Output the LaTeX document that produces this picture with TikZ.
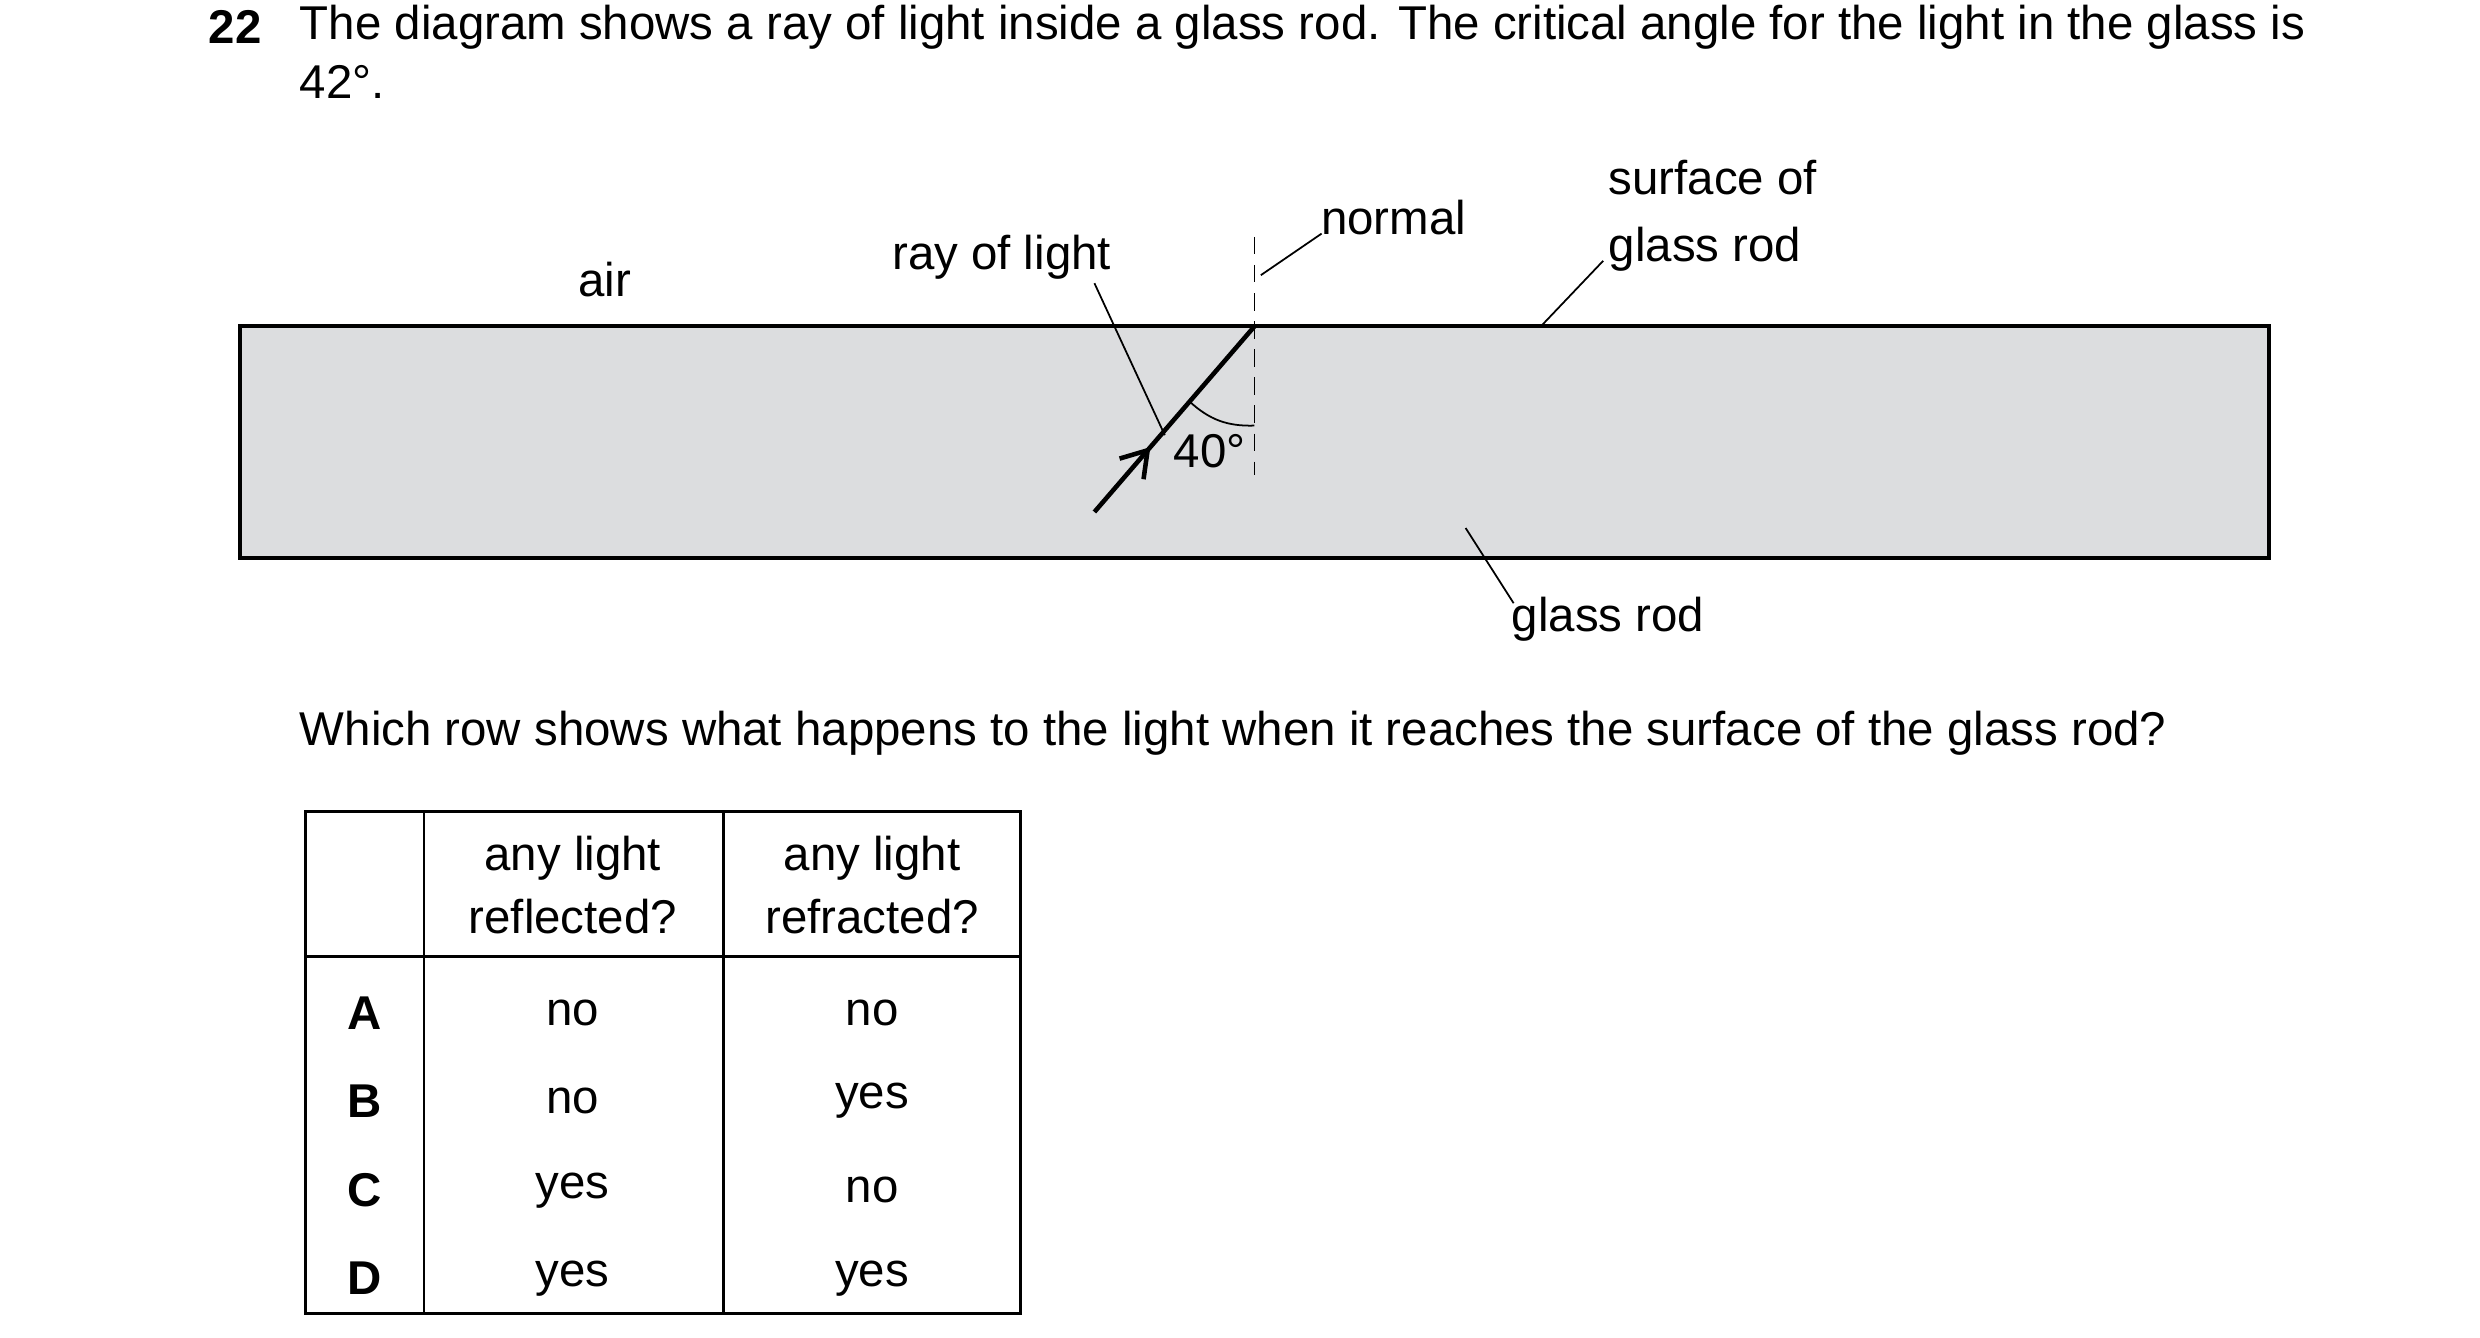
\documentclass[tikz,border=0pt]{standalone}
\usepackage{fontspec}
\setmainfont{Liberation Sans}
\usetikzlibrary{arrows.meta,decorations.markings}
\tikzset{
  txt/.style={font=\fontsize{13.5}{16}\selectfont, inner sep=0pt},
  lead/.style={line width=0.5pt},
  cell/.style={txt, align=center},
}
\begin{document}
\begin{tikzpicture}[x=0.016cm,y=-0.016cm]
\useasboundingbox (0,0) rectangle (1550,836);
% question
\node[txt, font=\fontsize{13.5}{16}\bfseries] (num) at (147,17) {22};
\node[txt, anchor=west] (q1) at (187,17) {The diagram shows a ray of light inside a glass rod. The critical angle for the light in the glass is};
\node[txt, anchor=west] (q2) at (187,51) {42°.};
% glass rod
\draw[line width=1.1pt, fill={rgb,255:red,220;green,221;blue,223}] (150,204) rectangle (1418,349);
\coordinate (hit) at (784,204);
\coordinate (start) at (684,320);
\coordinate (ntop) at (784,148);
\coordinate (nbot) at (784,297);
\draw[dashed, dash pattern=on 5pt off 3pt, line width=0.5pt] (ntop) -- (nbot);
\draw[line width=1.3pt, decoration={markings, mark=at position 0.35 with {\arrow{Straight Barb[length=7pt,width=9pt]}}}, postaction=decorate] (start) -- (hit);
\coordinate (a1) at (784,266);
\coordinate (a2) at (743.5,251);
\draw[lead] (a1) to[bend left=22] (a2);
\node[txt] (ang) at (756,282) {40°};
% labels
\node[txt] (air) at (378,175) {air};
\node[txt] (ray) at (626,161) {ray of light};
\draw[lead] (684,177) -- (728,272);
\node[txt] (normal) at (871,136) {normal};
\draw[lead] (826,146) -- (788,172);
\node[txt, anchor=west, align=left] (surf) at (1005,135) {surface of\\[3pt]glass rod};
\draw[lead] (1002,163) -- (963,204);
\node[txt] (rod) at (1005,387) {glass rod};
\draw[lead] (946,377) -- (916,330);
\node[txt, anchor=west] (which) at (187,458) {Which row shows what happens to the light when it reaches the surface of the glass rod?};
% table
\draw[line width=0.8pt] (191,507) rectangle (638,821);
\draw[line width=0.8pt] (191,598) -- (638,598);
\draw[line width=0.8pt] (265,507) -- (265,821);
\draw[line width=0.8pt] (452,507) -- (452,821);
\node[cell] (h1) at (358,553) {any light\\[2pt]reflected?};
\node[cell] (h2) at (545,553) {any light\\[2pt]refracted?};
\foreach \y/\l/\r/\s in {633/A/no/no, 688/B/no/yes, 744/C/yes/no, 799/D/yes/yes}{
  \node[cell, font=\fontsize{13.5}{16}\bfseries] at (228,\y) {\l};
  \node[cell] at (358,\y) {\r};
  \node[cell] at (545,\y) {\s};
}
\end{tikzpicture}
\end{document}
